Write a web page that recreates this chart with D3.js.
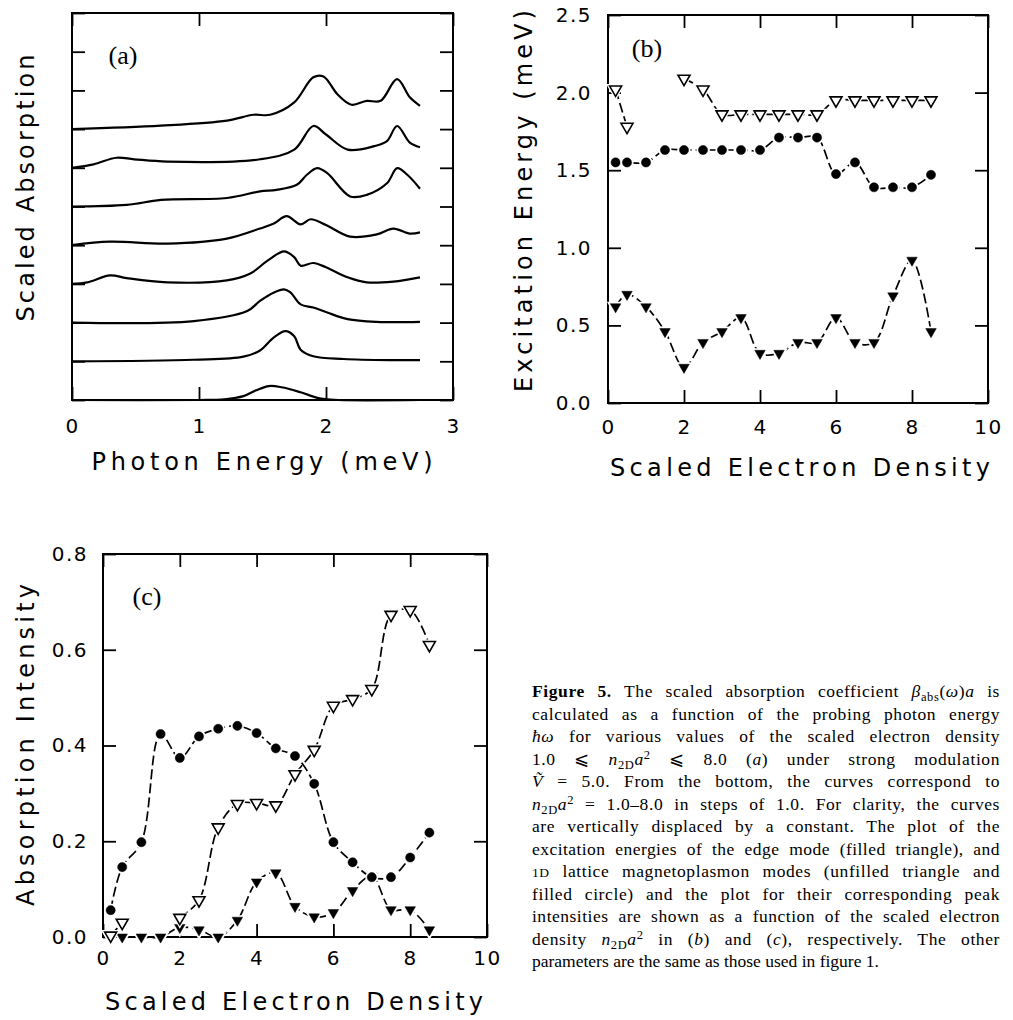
<!DOCTYPE html>
<html>
<head>
<meta charset="utf-8">
<script src="https://cdn.jsdelivr.net/npm/d3@7"></script>
<style>
	body { margin: 0; background: #fff; }
	svg { display: block; }
</style>
</head>
<body>
<script>

/* figure 5 : absorption spectra, excitation energies, peak intensities */


// Panel (a) curves, [photon energy (meV), height above own baseline], n2Da^2 = 1..8
const absorptionN1 = [[0,0],[1.0,0],[1.2,0.02],[1.35,0.1],[1.45,0.25],[1.55,0.36],[1.65,0.33],[1.8,0.2],[1.95,0.04],[2.1,0],[2.74,0]];
const absorptionN2 = [[0,0],[0.96,0.04],[1.35,0.12],[1.48,0.28],[1.59,0.62],[1.68,0.78],[1.75,0.65],[1.8,0.3],[1.9,0.13],[2.14,0.06],[2.53,0.03],[2.74,0.03]];
const absorptionN3 = [[0,0],[0.96,0.04],[1.38,0.3],[1.48,0.56],[1.59,0.78],[1.67,0.86],[1.72,0.78],[1.8,0.47],[1.9,0.39],[2.01,0.26],[2.17,0.09],[2.4,0.02],[2.74,0.02]];
const absorptionN4 = [[0,0],[0.12,0.04],[0.3,0.22],[0.43,0.15],[0.75,0.04],[1.22,0.09],[1.4,0.26],[1.54,0.6],[1.67,0.84],[1.75,0.69],[1.8,0.47],[1.9,0.54],[2.0,0.43],[2.17,0.17],[2.32,0.04],[2.53,0.06],[2.74,0.17]];
const absorptionN5 = [[0,0],[0.3,0.09],[0.75,0.04],[1.22,0.17],[1.48,0.43],[1.59,0.56],[1.69,0.75],[1.8,0.54],[1.88,0.67],[2.0,0.52],[2.19,0.22],[2.4,0.28],[2.53,0.43],[2.66,0.3],[2.74,0.33]];
const absorptionN6 = [[0,0],[0.43,0.04],[0.7,0.17],[1.22,0.22],[1.48,0.39],[1.61,0.43],[1.77,0.56],[1.85,0.82],[1.93,0.99],[2.01,0.86],[2.19,0.26],[2.32,0.3],[2.48,0.6],[2.56,0.99],[2.64,0.82],[2.74,0.46]];
const absorptionN7 = [[0,0],[0.17,0.09],[0.35,0.26],[0.49,0.22],[0.75,0.16],[1.48,0.22],[1.75,0.47],[1.9,1.08],[2.0,0.86],[2.17,0.47],[2.38,0.56],[2.48,0.69],[2.56,1.08],[2.66,0.65],[2.74,0.53]];
const absorptionN8 = [[0,0],[0.7,0.09],[1.22,0.22],[1.43,0.37],[1.56,0.37],[1.75,0.69],[1.9,1.34],[1.98,1.36],[2.09,0.9],[2.2,0.63],[2.32,0.73],[2.43,0.73],[2.56,1.29],[2.66,0.82],[2.74,0.6]];

// Panels (b) and (c): scaled electron density n2Da^2
const density = [0.2, 0.5, 1, 1.5, 2, 2.5, 3, 3.5, 4, 4.5, 5, 5.5, 6, 6.5, 7, 7.5, 8, 8.5];

// Panel (b) excitation energies (meV); null = mode not found
const edgeEnergy     = [0.62, 0.70, 0.62, 0.46, 0.23, 0.39, 0.46, 0.55, 0.32, 0.32, 0.39, 0.39, 0.55, 0.39, 0.39, 0.69, 0.92, 0.46];
const lmpUpperEnergy = [2.02, 1.78, null, null, 2.09, 2.02, 1.86, 1.86, 1.86, 1.86, 1.86, 1.86, 1.95, 1.95, 1.95, 1.95, 1.95, 1.95];
const lmpLowerEnergy = [1.55, 1.55, 1.55, 1.63, 1.63, 1.63, 1.63, 1.63, 1.63, 1.71, 1.71, 1.71, 1.475, 1.55, 1.39, 1.39, 1.39, 1.47];

// Panel (c) absorption intensities
const edgeIntensity     = [0.0, 0.0, 0.0, 0.0, 0.02, 0.015, 0.0, 0.035, 0.115, 0.134, 0.064, 0.042, 0.051, 0.097, 0.127, 0.057, 0.057, 0.015];
const lmpUpperIntensity = [0.003, 0.03, null, null, 0.04, 0.077, 0.229, 0.278, 0.28, 0.275, 0.34, 0.391, 0.483, 0.497, 0.518, 0.673, 0.683, 0.61];
const lmpLowerIntensity = [0.056, 0.146, 0.198, 0.424, 0.374, 0.419, 0.435, 0.441, 0.426, 0.394, 0.378, 0.32, 0.198, 0.156, 0.125, 0.125, 0.166, 0.218];

// Tick values
const photonTicks = [0, 1, 2, 3];
const absorptionTicks = [0, 1, 2, 3, 4, 5, 6, 7, 8, 9, 10];
const densityTicks = [0, 2, 4, 6, 8, 10];
const energyTicks = [0, 0.5, 1.0, 1.5, 2.0, 2.5];
const intensityTicks = [0, 0.2, 0.4, 0.6, 0.8];

// Caption, one entry per printed line: [text, style]
const captionLines = [
	[['Figure 5.', 'b'], [' The scaled absorption coefficient '], ['β', 'i'], ['abs', 'sub'], ['('], ['ω', 'i'], [')'], ['a', 'i'], [' is']],
	[['calculated as a function of the probing photon energy']],
	[['ħω', 'i'], [' for various values of the scaled electron density']],
	[['1.0 ⩽ '], ['n', 'i'], ['2D', 'sub'], ['a', 'i'], ['2', 'sup'], [' ⩽ 8.0 ('], ['a', 'i'], [') under strong modulation']],
	[['Ṽ', 'i'], [' = 5.0. From the bottom, the curves correspond to']],
	[['n', 'i'], ['2D', 'sub'], ['a', 'i'], ['2', 'sup'], [' = 1.0–8.0 in steps of 1.0. For clarity, the curves']],
	[['are vertically displaced by a constant. The plot of the']],
	[['excitation energies of the edge mode (filled triangle), and']],
	[['1D', 'sc'], [' lattice magnetoplasmon modes (unfilled triangle and']],
	[['filled circle) and the plot for their corresponding peak']],
	[['intensities are shown as a function of the scaled electron']],
	[['density '], ['n', 'i'], ['2D', 'sub'], ['a', 'i'], ['2', 'sup'], [' in ('], ['b', 'i'], [') and ('], ['c', 'i'], ['), respectively. The other']],
	[['parameters are the same as those used in figure 1.']]
];


const width = 1013;
const height = 1020;
const TICK = 13;
const PLOT_FONT = '"DejaVu Sans", sans-serif';
const TEXT_FONT = '"Liberation Serif", "Times New Roman", serif';

var svg = d3.select('body')
	.append('svg')
	.attr('width', width)
	.attr('height', height);


/*
 * Creates a panel group with linear scales for the given pixel box
 */
function makePanel(box, xDomain, yDomain) {

	var w = box.right - box.left;
	var h = box.bottom - box.top;

	var g = svg.append('g')
		.attr('transform', `translate(${box.left},${box.top})`);

	return {
		g: g,
		w: w,
		h: h,
		x: d3.scaleLinear().domain(xDomain).range([0, w]),
		y: d3.scaleLinear().domain(yDomain).range([h, 0])
	};
}


// Styles one axis group: inward ticks, no domain line, plot font
function styleAxis(sel) {
	sel.select('.domain').remove();
	sel.selectAll('.tick line').attr('stroke', '#000').attr('stroke-width', 1.8);
	sel.selectAll('.tick text')
		.attr('fill', '#000')
		.style('font-family', PLOT_FONT)
		.style('font-size', '20px')
		.style('letter-spacing', '1.5px');
}


/*
 * Draws the frame plus inward ticks on all four sides,
 * labels only on bottom and left
 */
function drawFrame(p, xTicks, yTicks, xFmt, yFmt, xPad, yPad) {

	p.g.append('g')
		.attr('transform', `translate(0,${p.h})`)
		.call(d3.axisBottom(p.x).tickValues(xTicks).tickSizeInner(-TICK).tickSizeOuter(0).tickPadding(xPad).tickFormat(xFmt))
		.call(styleAxis);

	p.g.append('g')
		.call(d3.axisTop(p.x).tickValues(xTicks).tickSizeInner(-TICK).tickSizeOuter(0).tickFormat(''))
		.call(styleAxis);

	p.g.append('g')
		.call(d3.axisLeft(p.y).tickValues(yTicks).tickSizeInner(-TICK).tickSizeOuter(0).tickPadding(yPad).tickFormat(yFmt))
		.call(styleAxis);

	p.g.append('g')
		.attr('transform', `translate(${p.w},0)`)
		.call(d3.axisRight(p.y).tickValues(yTicks).tickSizeInner(-TICK).tickSizeOuter(0).tickFormat(''))
		.call(styleAxis);

	p.g.append('rect')
		.attr('width', p.w)
		.attr('height', p.h)
		.attr('fill', 'none')
		.attr('stroke', '#000')
		.attr('stroke-width', 2);
}


// Axis title stretched to the printed length
function axisTitle(text, cx, cy, len, rotate) {
	svg.append('text')
		.attr('transform', `translate(${cx},${cy})` + (rotate ? ' rotate(-90)' : ''))
		.attr('text-anchor', 'middle')
		.attr('dy', '0.36em')
		.attr('textLength', len)
		.attr('lengthAdjust', 'spacing')
		.style('font-family', PLOT_FONT)
		.style('font-size', '24px')
		.text(text);
}


// Panel letter such as (a)
function panelLabel(p, text, px, py) {
	p.g.append('text')
		.attr('x', px)
		.attr('y', py)
		.attr('text-anchor', 'middle')
		.attr('dy', '0.35em')
		.style('font-family', TEXT_FONT)
		.style('font-size', '26px')
		.text(text);
}


/*
 * Draws one dashed series with markers; kind = 'circle' | 'open' | 'filled'
 */
function drawSeries(p, xs, ys, kind) {

	var pts = xs.map((d, i) => ({ x: d, y: ys[i] }));

	var line = d3.line()
		.defined(d => d.y !== null)
		.x(d => p.x(d.x))
		.y(d => p.y(d.y))
		.curve(d3.curveCatmullRom.alpha(0.5));

	p.g.append('path')
		.datum(pts)
		.attr('d', line)
		.attr('fill', 'none')
		.attr('stroke', '#000')
		.attr('stroke-width', 1.7)
		.attr('stroke-dasharray', '10,4');

	var sym = kind === 'circle'
		? d3.symbol().type(d3.symbolCircle).size(66)
		: d3.symbol().type(d3.symbolTriangle).size(kind === 'open' ? 62 : 48);

	var marks = p.g.append('g')
		.selectAll('g')
		.data(pts.filter(d => d.y !== null))
		.enter()
		.append('g')
		.attr('transform', d => `translate(${p.x(d.x)},${p.y(d.y)})` + (kind === 'circle' ? '' : ' rotate(180)'));

	// white halo leaves the small gap between line and marker
	marks.append('path')
		.attr('d', sym)
		.attr('fill', '#fff')
		.attr('stroke', '#fff')
		.attr('stroke-width', 4);

	marks.append('path')
		.attr('d', sym)
		.attr('fill', kind === 'open' ? '#fff' : '#000')
		.attr('stroke', '#000')
		.attr('stroke-width', kind === 'open' ? 1.6 : 0.5);
}



/*****************************************************************************
 * Panel (a)
 *****************************************************************************/

var panelA = makePanel({ left: 72, right: 453, top: 13, bottom: 400 }, [0, 3], [0, 10]);
drawFrame(panelA, photonTicks, absorptionTicks, d3.format('d'), () => '', 19, 8);

var curveLine = d3.line()
	.x(d => panelA.x(d[0]))
	.y(d => panelA.y(d[1]))
	.curve(d3.curveCatmullRom.alpha(0.5));

[absorptionN1, absorptionN2, absorptionN3, absorptionN4,
 absorptionN5, absorptionN6, absorptionN7, absorptionN8].forEach(function(curve, i) {
	// each curve is displaced upward by one tick
	panelA.g.append('path')
		.datum(curve.map(d => [d[0], d[1] + i]))
		.attr('d', curveLine)
		.attr('fill', 'none')
		.attr('stroke', '#000')
		.attr('stroke-width', 2.2);
});

panelLabel(panelA, '(a)', 51, 42);
axisTitle('Scaled Absorption', 25, 188, 267, true);
axisTitle('Photon Energy (meV)', 262, 461, 341, false);



/*****************************************************************************
 * Panel (b)
 *****************************************************************************/

var panelB = makePanel({ left: 608, right: 988, top: 15, bottom: 403 }, [0, 10], [0, 2.5]);
drawFrame(panelB, densityTicks, energyTicks, d3.format('d'), d3.format('.1f'), 17, 16);

drawSeries(panelB, density, edgeEnergy, 'filled');
drawSeries(panelB, density, lmpLowerEnergy, 'circle');
drawSeries(panelB, density, lmpUpperEnergy, 'open');

panelLabel(panelB, '(b)', 39, 33);
axisTitle('Excitation Energy (meV)', 523, 201, 382, true);
axisTitle('Scaled Electron Density', 800, 467, 380, false);



/*****************************************************************************
 * Panel (c)
 *****************************************************************************/

var panelC = makePanel({ left: 103, right: 487, top: 554, bottom: 937 }, [0, 10], [0, 0.8]);
drawFrame(panelC, densityTicks, intensityTicks, d3.format('d'), d3.format('.1f'), 14, 15);

drawSeries(panelC, density, edgeIntensity, 'filled');
drawSeries(panelC, density, lmpLowerIntensity, 'circle');
drawSeries(panelC, density, lmpUpperIntensity, 'open');

panelLabel(panelC, '(c)', 44, 42);
axisTitle('Absorption Intensity', 25, 745, 322, true);
axisTitle('Scaled Electron Density', 294, 1001, 378, false);



/*****************************************************************************
 * Caption
 *****************************************************************************/

const CAPTION_X = 532;
const CAPTION_W = 468;
const CAPTION_TOP = 697;
const CAPTION_LEAD = 22.5;

var shiftOf = { sub: 4, sup: -6 };

captionLines.forEach(function(segments, i) {

	var t = svg.append('text')
		.attr('x', CAPTION_X)
		.attr('y', CAPTION_TOP + i * CAPTION_LEAD)
		.style('font-family', TEXT_FONT)
		.style('font-size', '17.5px');

	var shift = 0;
	segments.forEach(function(seg) {
		var style = seg[1] || '';
		var target = shiftOf[style] || 0;
		var span = t.append('tspan').text(seg[0]);

		if (target !== shift) span.attr('dy', target - shift);
		shift = target;

		if (style === 'b') span.style('font-weight', 'bold');
		if (style === 'i') span.style('font-style', 'italic');
		if (style === 'sub' || style === 'sup') span.style('font-size', '12.5px');
		if (style === 'sc') span.style('font-size', '13.5px');
	});

	// every line but the last is justified: part letter spacing, rest in the word gaps
	if (i < captionLines.length - 1) {
		var plain = segments.map(s => s[0]).join('');
		var natural = t.node().getComputedTextLength();
		var extra = CAPTION_W - natural;
		var gaps = plain.split(' ').length - 1;
		var ls = Math.min(0.6, extra * 0.4 / plain.length);
		t.style('letter-spacing', ls + 'px')
			.style('word-spacing', ((extra - ls * plain.length) / gaps) + 'px');
	}
});

</script>
</body>
</html>
